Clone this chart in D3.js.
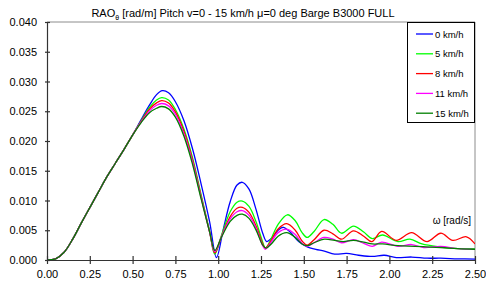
<!DOCTYPE html>
<html>
<head>
<meta charset="utf-8">
<script src="https://cdn.jsdelivr.net/npm/d3@7"></script>
<style>
  body { margin: 0; background: #fff; }
  text { font-family: "Liberation Sans", Arial, sans-serif; fill: #000; }
</style>
</head>
<body>
<script>
// RAO pitch curves, [omega, value]
var rise = [[0,0],[0.05,0.0002],[0.1,0.0013],[0.15,0.0035],[0.2,0.0062],[0.25,0.0088],
            [0.3,0.0114],[0.35,0.014],[0.4,0.0163],[0.45,0.0186],[0.5,0.021]]

var v0 = [[0.55,0.0236],[0.6,0.0261],[0.64,0.0278],[0.674,0.02845],[0.71,0.0281],[0.75,0.0266],
          [0.8,0.0234],[0.85,0.0187],[0.9,0.0128],[0.95,0.0064],[0.99,0.0004],
          [1.03,0.0052],[1.07,0.0098],[1.11,0.0126],[1.141,0.01306],[1.18,0.0119],[1.22,0.0086],
          [1.26,0.0045],[1.283,0.0031],[1.31,0.0036],[1.35,0.005],[1.38,0.0055],[1.42,0.0047],
          [1.47,0.0031],[1.52,0.0022],[1.57,0.0018],[1.62,0.0015],[1.68,0.001],[1.75,0.0011],
          [1.82,0.0008],[1.9,0.0006],[1.97,0.0008],[2.04,0.0004],[2.13,0.0005],[2.22,0.0003],
          [2.3,0.0003],[2.4,0.0002],[2.5,0.00015]]

var v5 = [[0.55,0.0234],[0.6,0.0257],[0.64,0.0269],[0.67,0.0273],[0.71,0.0269],[0.75,0.0253],
          [0.8,0.022],[0.85,0.0172],[0.9,0.011],[0.95,0.0048],[0.98,0.001],
          [1.02,0.0042],[1.07,0.0081],[1.11,0.0097],[1.141,0.0099],[1.18,0.009],[1.22,0.0065],
          [1.26,0.003],[1.275,0.002],[1.3,0.003],[1.35,0.006],[1.404,0.0076],[1.45,0.0066],
          [1.49,0.0046],[1.52,0.0038],[1.56,0.0048],[1.618,0.0068],[1.67,0.006],[1.72,0.0045],
          [1.79,0.0057],[1.85,0.0047],[1.9,0.0036],[1.96,0.0042],[2.05,0.0031],[2.12,0.0035],
          [2.19,0.0027],[2.29,0.0022],[2.4,0.0019],[2.5,0.0019]]

var v8 = [[0.55,0.0233],[0.6,0.0254],[0.64,0.0264],[0.67,0.0268],[0.71,0.0264],[0.75,0.0249],
          [0.8,0.0216],[0.85,0.0168],[0.9,0.0107],[0.95,0.0047],[0.98,0.0012],
          [1.02,0.004],[1.07,0.0073],[1.11,0.0087],[1.141,0.00885],[1.18,0.008],[1.22,0.0058],
          [1.26,0.0027],[1.275,0.002],[1.3,0.0028],[1.35,0.0052],[1.4,0.0061],[1.45,0.005],
          [1.49,0.0032],[1.52,0.0025],[1.56,0.0034],[1.618,0.005],[1.67,0.0044],[1.72,0.0035],
          [1.79,0.0049],[1.85,0.004],[1.897,0.0031],[1.955,0.0048],[2.04,0.0033],[2.13,0.0046],
          [2.22,0.0031],[2.3,0.0045],[2.37,0.0033],[2.45,0.0039],[2.5,0.0027]]

var v11 = [[0.55,0.0232],[0.6,0.0251],[0.64,0.026],[0.67,0.0263],[0.71,0.0259],[0.75,0.0245],
           [0.8,0.0212],[0.85,0.0165],[0.9,0.0105],[0.95,0.0047],[0.98,0.0014],
           [1.02,0.004],[1.07,0.0069],[1.11,0.0081],[1.141,0.0083],[1.18,0.0075],[1.22,0.0054],
           [1.26,0.0024],[1.275,0.0018],[1.3,0.0026],[1.35,0.0046],[1.4,0.0052],[1.45,0.0043],
           [1.49,0.0028],[1.52,0.0023],[1.56,0.0029],[1.618,0.0038],[1.67,0.0035],[1.72,0.0029],
           [1.79,0.0034],[1.85,0.0028],[1.9,0.0023],[1.955,0.003],[2.05,0.0023],[2.13,0.0026],
           [2.2,0.0021],[2.3,0.0023],[2.4,0.0019],[2.5,0.0018]]

var v15 = [[0.55,0.0231],[0.6,0.0248],[0.64,0.0255],[0.67,0.0258],[0.71,0.0254],[0.75,0.024],
           [0.8,0.0208],[0.85,0.0161],[0.9,0.0103],[0.95,0.0047],[0.98,0.0016],
           [1.02,0.0039],[1.07,0.0065],[1.11,0.0075],[1.141,0.0077],[1.18,0.007],[1.22,0.0051],
           [1.26,0.0025],[1.28,0.002],[1.31,0.0027],[1.35,0.004],[1.4,0.0046],[1.45,0.0038],
           [1.49,0.0027],[1.52,0.0024],[1.56,0.0029],[1.62,0.0035],[1.68,0.0033],[1.73,0.0031],
           [1.79,0.0033],[1.85,0.003],[1.9,0.0027],[1.96,0.0027],[2.05,0.0024],[2.15,0.0023],
           [2.3,0.0021],[2.4,0.0019],[2.5,0.0018]]

var names = ["0 km/h","5 km/h","8 km/h","11 km/h","15 km/h"]
var colors = ["#0000ff","#00ff00","#ff0000","#ff00ff","#008000"]
var xTicks = [0,0.25,0.5,0.75,1,1.25,1.5,1.75,2,2.25,2.5]
var yTicks = [0,0.005,0.01,0.015,0.02,0.025,0.03,0.035,0.04]

var series = [v0,v5,v8,v11,v15].map(function(s){ return rise.concat(s) })

var margin = {top: 22, right: 11, bottom: 24, left: 47},
    width = 486 - margin.left - margin.right,
    height = 284 - margin.top - margin.bottom;

var svg = d3.select("body").append("svg")
    .attr("width", 486)
    .attr("height", 284)

var g = svg.append("g")
    .attr("transform", "translate(" + margin.left + "," + margin.top + ")")

var x = d3.scaleLinear().domain([0, 2.5]).range([0, width])
var y = d3.scaleLinear().domain([0, 0.04]).range([height, 0])

// grey frame top/right
g.append("line").attr("x1",0).attr("x2",width).attr("y1",0).attr("y2",0)
    .attr("stroke","#8c8c8c")
g.append("line").attr("x1",width).attr("x2",width).attr("y1",0).attr("y2",height)
    .attr("stroke","#8c8c8c")

g.append("clipPath").attr("id","clip")
  .append("rect").attr("width", width).attr("height", height + 1)

var line = d3.line()
    .x(function(d){ return x(d[0]) })
    .y(function(d){ return y(d[1]) })
    .curve(d3.curveCatmullRom.alpha(0.5))

g.append("g").attr("clip-path","url(#clip)")
  .selectAll("path")
  .data(series)
  .enter()
  .append("path")
    .attr("d", line)
    .attr("fill","none")
    .attr("stroke", function(d,i){ return colors[i] })
    .attr("stroke-width", 1.3)

// axes
var yAxis = g.append("g")
    .call(d3.axisLeft(y).tickValues(yTicks).tickFormat(d3.format(".3f"))
          .tickSizeInner(2).tickSizeOuter(0).tickPadding(8))
yAxis.selectAll(".tick line").attr("x1", 3)

var xAxis = g.append("g")
    .attr("transform", "translate(0," + height + ")")
    .call(d3.axisBottom(x).tickValues(xTicks).tickFormat(d3.format(".2f"))
          .tickSizeInner(4).tickSizeOuter(0).tickPadding(6))
xAxis.selectAll(".tick line").attr("y1", -4)

svg.selectAll(".domain, .tick line").attr("stroke", "#333").attr("stroke-width", 1.2)
svg.selectAll(".tick text").attr("font-size", 11)
    .style("font-family", "'Liberation Sans', Arial, sans-serif").attr("fill", "#000")

// title
var title = svg.append("text")
    .attr("x", 243).attr("y", 17)
    .attr("text-anchor", "middle")
    .attr("font-size", 11)
title.append("tspan").text("RAO")
title.append("tspan").text("θ").attr("font-size", 7).attr("dy", 3)
title.append("tspan").text(" [rad/m] Pitch v=0 - 15 km/h ").attr("dy", -3)
title.append("tspan").text("μ")
title.append("tspan").text("=0 deg Barge B3000 FULL")

// omega label
svg.append("text")
    .attr("x", 471).attr("y", 224)
    .attr("text-anchor", "end")
    .attr("font-size", 10)
    .text("ω [rad/s]")

// legend
var legend = svg.append("g")
legend.append("rect")
    .attr("x", 407.5).attr("y", 22.5).attr("width", 67).attr("height", 100)
    .attr("fill", "#fff").attr("stroke", "#000")

var items = legend.selectAll("g.item")
    .data(names)
    .enter()
    .append("g")
    .attr("transform", function(d,i){ return "translate(0," + (34 + i*19.8) + ")" })
items.append("line")
    .attr("x1", 416).attr("x2", 433)
    .attr("stroke", function(d,i){ return colors[i] })
    .attr("stroke-width", 1.3)
items.append("text")
    .attr("x", 435).attr("y", 3.5)
    .attr("font-size", 9.5)
    .text(function(d){ return d })
</script>
</body>
</html>
